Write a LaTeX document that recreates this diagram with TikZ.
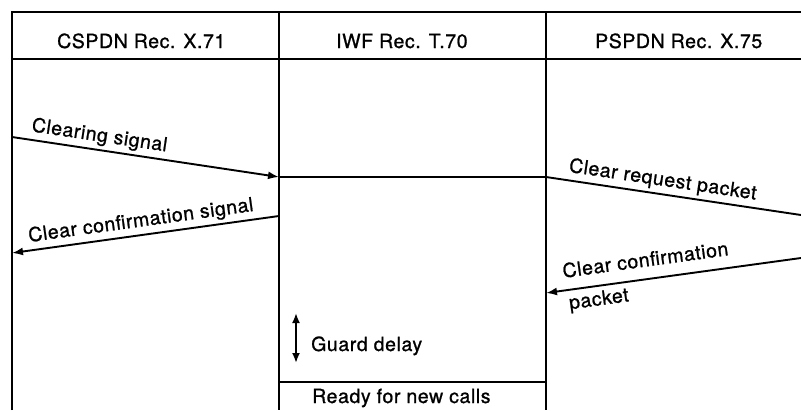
\documentclass[tikz,border=0pt]{standalone}
\usepackage{fontspec}
\setmainfont{TeX Gyre Heros}[LetterSpace=3,FakeBold=1]
\usetikzlibrary{arrows.meta}
\begin{document}
\begin{tikzpicture}[x=1pt,y=-1pt,
  frame/.style={line width=2.2pt},
  thin frame/.style={line width=1.6pt},
  plain/.style={line width=1.9pt},
  tip/.style={-{Latex[length=11pt,width=8pt]}},
  msg/.style={plain,tip},
  lbl/.style={font=\fontsize{19.5}{22}\selectfont, inner sep=3.3pt},
  hdr/.style={font=\fontsize{19.5}{22}\selectfont, anchor=base west, inner sep=0pt}]
\useasboundingbox (0,0) rectangle (801,410);
% frame
\coordinate (tl) at (12,12);
\coordinate (tr) at (801,12);
\coordinate (hl) at (12,59);
\coordinate (hr) at (801,59);
\coordinate (bl) at (12,410);
\coordinate (c1t) at (279,12);
\coordinate (c1b) at (279,410);
\coordinate (c2t) at (546,12);
\coordinate (c2b) at (546,410);
\draw[frame] (bl) -- (tl) -- (tr);
\draw[frame] (hl) -- (hr);
\draw[frame] (c1t) -- (c1b);
\draw[frame] (c2t) -- (c2b);
% headers
\node[hdr] (h1) at (57,48) {CSPDN Rec. X.71};
\node[hdr] (h2) at (336,48) {IWF Rec. T.70};
\node[hdr] (h3) at (595,48) {PSPDN Rec. X.75};
% messages
\coordinate (a1) at (12,137);
\coordinate (a2) at (279,177);
\coordinate (b1) at (546,177);
\coordinate (b2) at (801,215);
\coordinate (s1) at (279,216);
\coordinate (s2) at (12,253);
\coordinate (p1) at (801,258);
\coordinate (p2) at (546,293);
\draw[msg] (a1) -- node[lbl,pos=0.32,sloped,above] (la) {Clearing signal} (a2);
\draw[plain] (a2) -- (b1);
\draw[plain] (b1) -- node[lbl,pos=0.45,sloped,above] (lb) {Clear request packet} (b2);
\draw[plain,{Latex[length=11pt,width=8pt]}-] (s2) -- node[lbl,pos=0.49,sloped,above] (ls) {Clear confirmation signal} (s1);
\draw[plain,{Latex[length=11pt,width=8pt]}-] (p2) -- node[lbl,pos=0.40,sloped,above=8pt] (lp1) {Clear confirmation}
  node[lbl,pos=0.20,sloped,below=1pt] (lp2) {packet} (p1);
% guard delay
\coordinate (g1) at (296,313);
\coordinate (g2) at (296,363);
\draw[plain,{Latex[length=10pt,width=8pt]}-{Latex[length=10pt,width=8pt]}] (g1) -- (g2);
\node[hdr] (gd) at (311,351) {Guard delay};
% ready
\coordinate (r1) at (279,382);
\coordinate (r2) at (546,382);
\draw[thin frame] (r1) -- (r2);
\node[hdr] (rd) at (312,403) {Ready for new calls};
\end{tikzpicture}
\end{document}
